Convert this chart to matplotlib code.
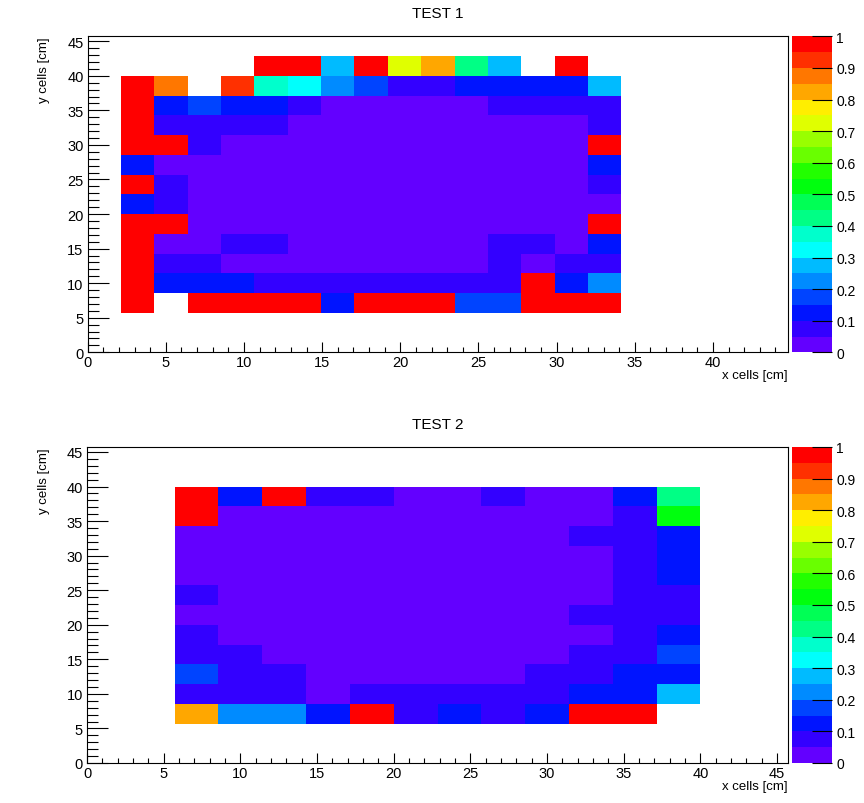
import colorsys
import numpy as np
import matplotlib
matplotlib.use("Agg")
import matplotlib.pyplot as plt
from matplotlib.colors import ListedColormap, BoundaryNorm
from matplotlib.ticker import MultipleLocator

plt.rcParams['font.family'] = ['Liberation Sans', 'DejaVu Sans']

nan = np.nan

# ---------------- data ----------------
titles = ["TEST 1", "TEST 2"]
x_label = "x cells [cm]"
y_label = "y cells [cm]"

# TEST 1 : 15 columns (x bin width 44.8/21), 13 rows (y bin width 45.714/16), rows bottom -> top
test1_x_range = (0.0, 44.8)
test1_y_range = (0.0, 320.0 / 7.0)
test1_x_first_bin, test1_nx_bins = 1, 21
test1_y_first_bin, test1_ny_bins = 2, 16
test1_values = [
    [1, nan, 1, 1, 1, 1, 0.12, 1, 1, 1, 0.17, 0.17, 1, 1, 1],
    [1, 0.12, 0.12, 0.12, 0.07, 0.07, 0.07, 0.07, 0.07, 0.07, 0.07, 0.07, 1, 0.12, 0.22],
    [1, 0.07, 0.07, 0.02, 0.02, 0.02, 0.02, 0.02, 0.02, 0.02, 0.02, 0.07, 0.02, 0.07, 0.07],
    [1, 0.02, 0.02, 0.07, 0.07, 0.02, 0.02, 0.02, 0.02, 0.02, 0.02, 0.07, 0.07, 0.02, 0.12],
    [1, 1, 0.02, 0.02, 0.02, 0.02, 0.02, 0.02, 0.02, 0.02, 0.02, 0.02, 0.02, 0.02, 1],
    [0.12, 0.07, 0.02, 0.02, 0.02, 0.02, 0.02, 0.02, 0.02, 0.02, 0.02, 0.02, 0.02, 0.02, 0.02],
    [1, 0.07, 0.02, 0.02, 0.02, 0.02, 0.02, 0.02, 0.02, 0.02, 0.02, 0.02, 0.02, 0.02, 0.07],
    [0.12, 0.02, 0.02, 0.02, 0.02, 0.02, 0.02, 0.02, 0.02, 0.02, 0.02, 0.02, 0.02, 0.02, 0.12],
    [1, 1, 0.07, 0.02, 0.02, 0.02, 0.02, 0.02, 0.02, 0.02, 0.02, 0.02, 0.02, 0.02, 1],
    [1, 0.07, 0.07, 0.07, 0.07, 0.02, 0.02, 0.02, 0.02, 0.02, 0.02, 0.02, 0.02, 0.02, 0.07],
    [1, 0.12, 0.17, 0.12, 0.12, 0.07, 0.02, 0.02, 0.02, 0.02, 0.02, 0.07, 0.07, 0.07, 0.07],
    [1, 0.87, nan, 0.92, 0.37, 0.32, 0.22, 0.17, 0.07, 0.07, 0.12, 0.12, 0.12, 0.12, 0.27],
    [nan, nan, nan, nan, 1, 1, 0.27, 1, 0.72, 0.82, 0.42, 0.27, nan, 1, nan],
]

# TEST 2 : 12 columns, 12 rows (bin width 45.714/16 on both axes), rows bottom -> top
test2_x_range = (0.0, 320.0 / 7.0)
test2_y_range = (0.0, 320.0 / 7.0)
test2_x_first_bin, test2_nx_bins = 2, 16
test2_y_first_bin, test2_ny_bins = 2, 16
test2_values = [
    [0.82, 0.22, 0.22, 0.12, 1, 0.07, 0.12, 0.07, 0.12, 1, 1, nan],
    [0.07, 0.07, 0.07, 0.02, 0.07, 0.07, 0.07, 0.07, 0.07, 0.12, 0.12, 0.27],
    [0.17, 0.07, 0.07, 0.02, 0.02, 0.02, 0.02, 0.02, 0.07, 0.07, 0.12, 0.12],
    [0.07, 0.07, 0.02, 0.02, 0.02, 0.02, 0.02, 0.02, 0.02, 0.07, 0.07, 0.17],
    [0.07, 0.02, 0.02, 0.02, 0.02, 0.02, 0.02, 0.02, 0.02, 0.02, 0.07, 0.12],
    [0.02, 0.02, 0.02, 0.02, 0.02, 0.02, 0.02, 0.02, 0.02, 0.07, 0.07, 0.07],
    [0.07, 0.02, 0.02, 0.02, 0.02, 0.02, 0.02, 0.02, 0.02, 0.02, 0.07, 0.07],
    [0.02, 0.02, 0.02, 0.02, 0.02, 0.02, 0.02, 0.02, 0.02, 0.02, 0.07, 0.12],
    [0.02, 0.02, 0.02, 0.02, 0.02, 0.02, 0.02, 0.02, 0.02, 0.02, 0.07, 0.12],
    [0.02, 0.02, 0.02, 0.02, 0.02, 0.02, 0.02, 0.02, 0.02, 0.07, 0.07, 0.12],
    [1, 0.02, 0.02, 0.02, 0.02, 0.02, 0.02, 0.02, 0.02, 0.02, 0.07, 0.52],
    [1, 0.12, 1, 0.07, 0.07, 0.02, 0.02, 0.07, 0.02, 0.02, 0.12, 0.42],
]

cbar_ticks = [0, 0.1, 0.2, 0.3, 0.4, 0.5, 0.6, 0.7, 0.8, 0.9, 1]
cbar_labels = ["0", "0.1", "0.2", "0.3", "0.4", "0.5", "0.6", "0.7", "0.8", "0.9", "1"]

# ---------------- ROOT "pretty" palette, 20 contours ----------------
n_contours = 20
pal = []
for k in range(n_contours):
    idx = int((k + 0.99) * 50 / n_contours)
    hue = max(280.0 - (idx + 1) * 280.0 / 50.0, 0.0)
    pal.append(colorsys.hls_to_rgb(hue / 360.0, 0.5, 1.0))
cmap = ListedColormap(pal)
cmap.set_over(pal[-1])
cmap.set_under(pal[0])
cmap.set_bad((1, 1, 1, 0))
norm = BoundaryNorm(np.linspace(0, 1, n_contours + 1), n_contours)

W, H = 864.0, 804.0
fig = plt.figure(figsize=(W / 100, H / 100), dpi=100)


def rect(x0, y0, x1, y1):
    return [x0 / W, 1 - y1 / H, (x1 - x0) / W, (y1 - y0) / H]


FS = 10.5
panels = [
    (titles[0], test1_values, test1_x_range, test1_y_range, test1_x_first_bin, test1_nx_bins,
     test1_y_first_bin, test1_ny_bins, (87.7, 37.3, 788, 353.3)),
    (titles[1], test2_values, test2_x_range, test2_y_range, test2_x_first_bin, test2_nx_bins,
     test2_y_first_bin, test2_ny_bins, (87.0, 448.0, 788, 764.0)),
]

for title, vals, xr, yr, xb0, nxb, yb0, nyb, (fx0, fy0, fx1, fy1) in panels:
    ax = fig.add_axes(rect(fx0, fy0, fx1, fy1))
    z = np.ma.masked_invalid(np.array(vals, dtype=float))
    ny, nx = z.shape
    bx = (xr[1] - xr[0]) / nxb
    by = (yr[1] - yr[0]) / nyb
    xe = xr[0] + bx * np.arange(xb0, xb0 + nx + 1)
    ye = yr[0] + by * np.arange(yb0, yb0 + ny + 1)
    ax.pcolormesh(xe, ye, z, cmap=cmap, norm=norm, edgecolors='none', antialiased=False)
    ax.set_xlim(*xr)
    ax.set_ylim(*yr)
    ax.xaxis.set_major_locator(MultipleLocator(5))
    ax.xaxis.set_minor_locator(MultipleLocator(1))
    ax.yaxis.set_major_locator(MultipleLocator(5))
    ax.yaxis.set_minor_locator(MultipleLocator(1))
    ax.tick_params(axis='both', which='both', direction='in', top=False, right=False,
                   labelsize=FS, width=0.8, colors='black')
    ax.tick_params(axis='y', which='major', length=15, pad=3)
    ax.tick_params(axis='y', which='minor', length=8)
    ax.tick_params(axis='x', which='major', length=7, pad=2)
    ax.tick_params(axis='x', which='minor', length=3.6)
    for s in ax.spines.values():
        s.set_linewidth(0.8)
    ax.set_title(title, fontsize=FS + 0.5, pad=14)
    ax.set_xlabel(x_label, fontsize=FS - 1, loc='right', labelpad=0)
    ax.set_ylabel(y_label, fontsize=FS - 1, loc='top', labelpad=12)

    cax = fig.add_axes(rect(792, fy0, 832, fy1))
    cb = fig.colorbar(plt.cm.ScalarMappable(norm=norm, cmap=cmap), cax=cax,
                      boundaries=np.linspace(0, 1, n_contours + 1), ticks=cbar_ticks)
    cb.outline.set_visible(False)
    cb.ax.set_yticklabels(cbar_labels)
    cb.ax.tick_params(axis='y', which='major', direction='in', length=14.5, width=0.8,
                      labelsize=FS - 0.5, pad=3, colors='black')
    cb.ax.minorticks_off()

fig.savefig("out.png", dpi=100)
